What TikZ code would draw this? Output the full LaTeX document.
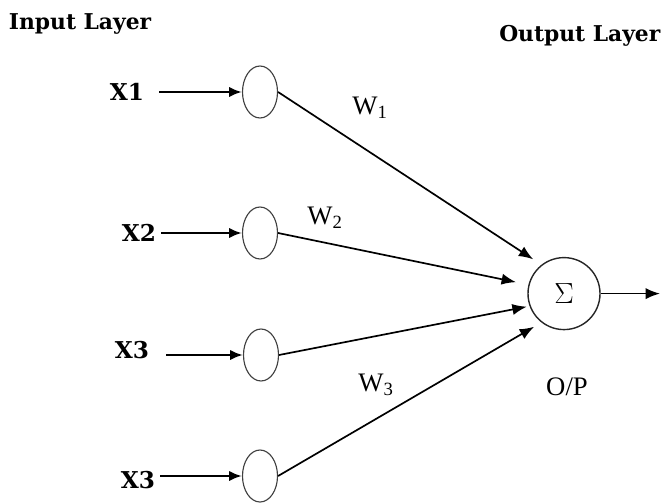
\documentclass[tikz,border=0pt]{standalone}
\usepackage{fontspec}
\setmainfont{Liberation Serif}
\newfontfamily\labelfont{DejaVu Serif}
\usetikzlibrary{arrows.meta}
\usetikzlibrary{shapes.geometric}

\begin{document}
\begin{tikzpicture}[
    layertext/.style={font=\labelfont\bfseries\fontsize{15.5}{18}\selectfont},
    inputtext/.style={font=\labelfont\bfseries\fontsize{16.5}{19}\selectfont},
    weighttext/.style={font=\fontsize{19}{22}\selectfont},
    neuron/.style={draw=black!75, line width=0.8pt, ellipse, minimum width=0.875cm, minimum height=1.3cm, inner sep=0pt},
    sumnode/.style={draw=black!85, line width=1pt, circle, minimum size=1.8cm, inner sep=0pt, font=\fontsize{22}{24}\selectfont},
    inarrow/.style={line width=1.8pt, -{Latex[length=3.2mm,width=2.6mm]}},
    warrow/.style={line width=1.2pt, -{Latex[length=3.6mm,width=2.8mm]}}
]
        \useasboundingbox (0,0) rectangle (16.55,12.55);

        % layer titles
        \node[layertext] (inlayer) at (2.0,11.95) {Input Layer};
        \node[layertext, anchor=east, inner xsep=1pt] (outlayer) at (16.55,11.65) {Output Layer};

        % input neurons
        \node[neuron] (n1) at (6.5,10.25) {};
        \node[neuron] (n2) at (6.5,6.725) {};
        \node[neuron] (n3) at (6.525,3.675) {};
        \node[neuron] (n4) at (6.5,0.65) {};

        % summing node
        \node[sumnode] (sum) at (14.1,5.21) {$\Sigma$};
        \coordinate (out) at (16.5,5.21);

        % inputs
        \node[inputtext] (x1) at (3.175,10.25) {X1};
        \node[inputtext] (x2) at (3.475,6.725) {X2};
        \node[inputtext] (x3) at (3.3,3.8) {X3};
        \node[inputtext] (x4) at (3.45,0.55) {X3};

        \draw[inarrow] (x1.east) ++(0.25,0) -- (n1.west);
        \draw[inarrow] (x2.east) -- (n2.west);
        \draw[inarrow] (x3.east |- n3) ++(0.3,0) -- (n3.west);
        \draw[inarrow] (x4.east |- n4) -- (n4.west);

        % weighted connections
        \draw[warrow, shorten >=7pt] (n1.east) -- (sum.128);
        \draw[warrow, shorten >=9pt] (n2.east) -- (sum.166);
        \draw[warrow, shorten >=2pt] (n3.east) -- (sum.200);
        \draw[warrow, shorten >=6pt] (n4.east) -- (sum.232);
        \draw[warrow] (sum.east) -- (out);

        % weights and output label
        \node[weighttext] (w1) at (9.25,9.85) {W\textsubscript{1}};
        \node[weighttext] (w2) at (8.125,7.1) {W\textsubscript{2}};
        \node[weighttext] (w3) at (9.4,2.925) {W\textsubscript{3}};
        \node[weighttext] (op) at (14.175,2.875) {O/P};
\end{tikzpicture}
\end{document}
